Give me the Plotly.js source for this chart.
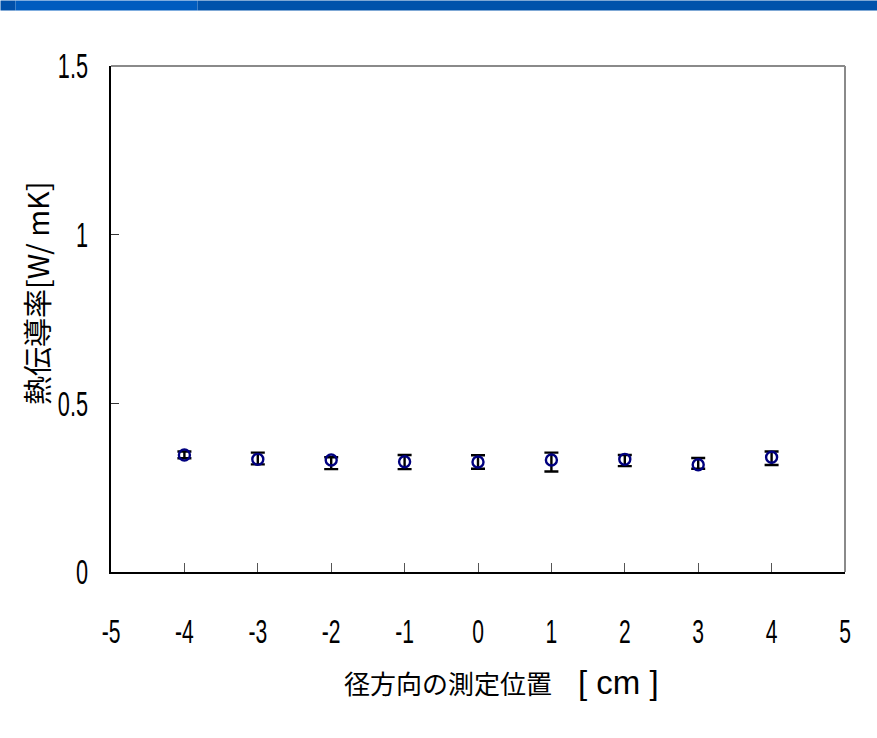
<!DOCTYPE html>
<html>
<head>
<meta charset="utf-8">
<script src="https://cdn.plot.ly/plotly-3.0.1.min.js"></script>
<style>
  html, body { margin: 0; padding: 0; background: #ffffff; }
  #chart { width: 877px; height: 738px; }
</style>
</head>
<body>
<div id="chart"></div>
<script>
// Radial measurement positions [cm]
const positions = [-4, -3, -2, -1, 0, 1, 2, 3, 4];
// Thermal conductivity [W/mK]
const conductivity = [0.347, 0.334, 0.332, 0.327, 0.326, 0.332, 0.334, 0.318, 0.340];
// Error bar extents (upper / lower)
const errPlus  = [0.010, 0.020, 0.008, 0.020, 0.020, 0.022, 0.013, 0.020, 0.017];
const errMinus = [0.010, 0.015, 0.027, 0.022, 0.020, 0.034, 0.020, 0.012, 0.023];

const xTicks = [-5, -4, -3, -2, -1, 0, 1, 2, 3, 4, 5];
const yTicks = [0, 0.5, 1, 1.5];
const yTickText = ['0', '0.5', '1', '1.5'];

const sans = '"Liberation Sans", Arial, sans-serif';
const jp = '"Noto Sans CJK JP", "Liberation Sans", sans-serif';

const traces = [{
  type: 'scatter',
  mode: 'markers',
  x: positions,
  y: conductivity,
  error_y: {
    type: 'data', symmetric: false,
    array: errPlus, arrayminus: errMinus,
    color: '#000000', thickness: 2.4, width: 7
  },
  marker: {
    symbol: 'circle-open', size: 11,
    color: '#00007f', line: { width: 2.4, color: '#00007f' }
  },
  hoverinfo: 'x+y'
}];

const layout = {
  width: 877, height: 738,
  margin: { l: 110.5, r: 32.3, t: 65.5, b: 165.7 },
  paper_bgcolor: '#ffffff', plot_bgcolor: '#ffffff',
  showlegend: false,
  xaxis: {
    range: [-5, 5], tickvals: xTicks, ticktext: xTicks.map(String),
    showgrid: false, zeroline: false,
    showline: true, linecolor: '#000000', linewidth: 2,
    ticks: 'inside', ticklen: 9, tickwidth: 1, tickcolor: '#555555',
    ticklabelstandoff: 28,
    tickfont: { family: sans, size: 34, color: '#000000' }
  },
  yaxis: {
    range: [0, 1.5], tickvals: yTicks, ticktext: yTickText,
    showgrid: false, zeroline: false,
    showline: true, linecolor: '#000000', linewidth: 2,
    ticks: 'inside', ticklen: 8, tickwidth: 1, tickcolor: '#333333',
    ticklabelstandoff: 14,
    tickfont: { family: sans, size: 35, color: '#000000' }
  },
  shapes: [
    // header band
    { type: 'rect', xref: 'paper', yref: 'paper', xsizemode: 'pixel', ysizemode: 'pixel',
      xanchor: 0, yanchor: 1, x0: -110.5, x1: -95.5, y0: 65.5, y1: 55.5,
      fillcolor: '#0050aa', line: { width: 0 }, layer: 'above' },
    { type: 'rect', xref: 'paper', yref: 'paper', xsizemode: 'pixel', ysizemode: 'pixel',
      xanchor: 0, yanchor: 1, x0: -95.5, x1: 86.5, y0: 65.5, y1: 55.5,
      fillcolor: '#005cbf', line: { width: 0 }, layer: 'above' },
    { type: 'rect', xref: 'paper', yref: 'paper', xsizemode: 'pixel', ysizemode: 'pixel',
      xanchor: 0, yanchor: 1, x0: 86.5, x1: 767, y0: 65.5, y1: 55.5,
      fillcolor: '#0052ab', line: { width: 0 }, layer: 'above' },
    // grey top and right frame
    { type: 'line', xref: 'paper', yref: 'paper', x0: 0, x1: 1, y0: 1, y1: 1,
      line: { color: '#8a8a8a', width: 2 } },
    { type: 'line', xref: 'paper', yref: 'paper', x0: 1, x1: 1, y0: 0, y1: 1,
      line: { color: '#8a8a8a', width: 2 } }
  ],
  annotations: [
    {
      xref: 'paper', yref: 'paper', x: 0, y: 0,
      xanchor: 'center', yanchor: 'middle', xshift: 390, yshift: -110,
      showarrow: false,
      text: '径方向の測定位置　<span style="font-family:Liberation Sans; font-size:33px">[ cm ]</span>',
      font: { family: jp, size: 26, color: '#000000' }
    },
    {
      xref: 'paper', yref: 'paper', x: 0, y: 0.5,
      xanchor: 'center', yanchor: 'middle', xshift: -75, yshift: 26,
      textangle: -90, showarrow: false,
      text: '熱伝導率[W/ mK]',
      font: { family: jp, size: 29, color: '#000000' }
    }
  ]
};

// Tick numbers are set in a condensed face: squeeze them horizontally.
function condenseTickLabels(gd, factor) {
  gd.querySelectorAll('.xtick text, .ytick text').forEach(function (el) {
    const w = el.getComputedTextLength();
    el.setAttribute('textLength', (w * factor).toFixed(2));
    el.setAttribute('lengthAdjust', 'spacingAndGlyphs');
  });
}

Plotly.newPlot('chart', traces, layout, { displayModeBar: false, staticPlot: true })
  .then(function (gd) { condenseTickLabels(gd, 0.62); });
</script>
</body>
</html>
